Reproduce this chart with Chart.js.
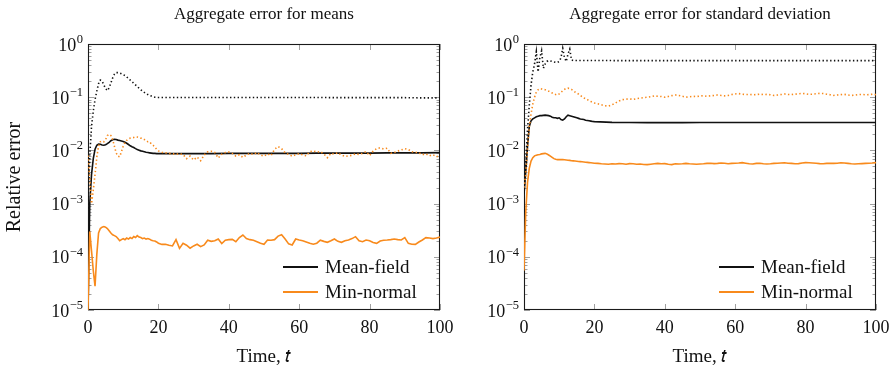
<!DOCTYPE html>
<html>
<head>
<meta charset="utf-8">
<script src="https://cdn.jsdelivr.net/npm/chart.js@4.4.0/dist/chart.umd.min.js"></script>
<style>
  body { margin: 0; background: #fff; width: 895px; height: 369px; position: relative; overflow: hidden; font-family: "Liberation Serif", serif; }
  .box { position: absolute; top: 0; height: 369px; }
  .legend { position: absolute; font-size: 19px; color: #111; line-height: 25px; }
  .legend div { display: flex; align-items: center; height: 25px; white-space: nowrap; }
  .legend .line { display: inline-block; width: 35px; height: 2px; margin-right: 7px; }
</style>
</head>
<body>
<div class="box" style="left:448px;width:447px"><canvas id="stdChart" width="447" height="369"></canvas></div>
<div class="box" style="left:0;width:470px"><canvas id="meansChart" width="470" height="369"></canvas></div>

<div class="legend" style="left:283px;top:254px">
  <div><span class="line" style="background:#111"></span>Mean-field</div>
  <div><span class="line" style="background:#f88a1c"></span>Min-normal</div>
</div>
<div class="legend" style="left:719px;top:254px">
  <div><span class="line" style="background:#111"></span>Mean-field</div>
  <div><span class="line" style="background:#f88a1c"></span>Min-normal</div>
</div>

<script>
// ================= DATA =================
const xTicks = [0, 20, 40, 60, 80, 100];
const yTicks = [1e-5, 1e-4, 1e-3, 1e-2, 1e-1, 1];

// time grid for the noisy curves
const timeFine = [
  0, 0.5, 1, 1.5, 2, 2.5, 3, 3.5, 4, 4.5, 5, 5.5, 6, 6.5, 7, 7.5, 8, 8.5, 9, 9.5,
  10, 10.5, 11, 11.5, 12, 12.5, 13, 13.5, 14, 14.5, 15, 15.5, 16, 16.5, 17, 17.5, 18, 18.5, 19, 19.5, 20,
  21, 22, 23, 24, 25, 26, 27, 28, 29, 30, 31, 32, 33, 34, 35, 36, 37, 38, 39, 40,
  41, 42, 43, 44, 45, 46, 47, 48, 49, 50, 51, 52, 53, 54, 55, 56, 57, 58, 59, 60,
  61, 62, 63, 64, 65, 66, 67, 68, 69, 70, 71, 72, 73, 74, 75, 76, 77, 78, 79, 80,
  81, 82, 83, 84, 85, 86, 87, 88, 89, 90, 91, 92, 93, 94, 95, 96, 97, 98, 99, 100
];
// time grid for the smooth curves
const timeCoarse = [
  0, 0.5, 1, 1.5, 2, 2.5, 3, 3.5, 4, 4.5, 5, 5.5, 6, 6.5, 7, 7.5, 8, 8.5, 9, 9.5,
  10, 10.5, 11, 11.5, 12, 12.5, 13, 13.5, 14, 14.5, 15, 15.5, 16, 16.5, 17, 17.5, 18, 18.5, 19, 19.5, 20,
  25, 30, 35, 40, 45, 50, 55, 60, 65, 70, 75, 80, 85, 90, 95, 100
];

// --- left panel: means ---
const meanFieldMeanSolid = [
  1e-5, 1e-3, 3.5e-3, 7e-3, 0.0105, 0.0125, 0.0132, 0.013, 0.0126, 0.0125, 0.0128, 0.0134, 0.0142, 0.0152, 0.0158, 0.0162, 0.016, 0.0156, 0.0153, 0.015,
  0.0147, 0.0142, 0.0136, 0.0129, 0.0122, 0.0117, 0.0113, 0.0108, 0.0104, 0.0101, 0.0098, 0.0096, 0.0094, 0.0092, 0.0091, 0.009, 0.0089, 0.0088, 0.0088, 0.0087, 0.0087,
  0.0087, 0.0087, 0.0087, 0.0088, 0.0088, 0.0088, 0.0088, 0.0088, 0.0089, 0.0089, 0.0089, 0.0089, 0.009, 0.009, 0.009, 0.0091
];
const meanFieldMeanDotted = [
  8e-4, 0.008, 0.028, 0.055, 0.09, 0.13, 0.18, 0.21, 0.2, 0.17, 0.145, 0.133, 0.15, 0.185, 0.23, 0.27, 0.29, 0.29, 0.285, 0.275,
  0.265, 0.255, 0.24, 0.225, 0.21, 0.196, 0.182, 0.17, 0.158, 0.148, 0.138, 0.13, 0.123, 0.117, 0.112, 0.108, 0.105, 0.102, 0.1, 0.099, 0.099,
  0.099, 0.099, 0.099, 0.099, 0.099, 0.099, 0.099, 0.099, 0.099, 0.098, 0.098, 0.098, 0.098, 0.098, 0.097, 0.097
];
const minNormalMeanSolid = [
  1e-5, 3.0e-4, 1.3e-4, 5.5e-5, 2.8e-5, 1.1e-4, 2.8e-4, 3.4e-4, 3.6e-4, 3.7e-4, 3.6e-4, 3.4e-4, 3.1e-4, 2.8e-4, 2.6e-4, 2.5e-4, 2.4e-4, 2.2e-4, 2.0e-4, 2.1e-4,
  2.2e-4, 2.1e-4, 2.25e-4, 2.15e-4, 2.3e-4, 2.2e-4, 2.4e-4, 2.3e-4, 2.5e-4, 2.35e-4, 2.3e-4, 2.2e-4, 2.25e-4, 2.15e-4, 2.2e-4, 2.15e-4, 2.05e-4, 2.0e-4, 1.98e-4, 1.9e-4, 1.8e-4,
  1.71e-4, 1.72e-4, 1.65e-4, 1.6e-4, 2.1e-4, 1.44e-4, 1.79e-4, 1.65e-4, 1.45e-4, 1.6e-4,
  1.72e-4, 1.55e-4, 1.67e-4, 2.05e-4, 1.95e-4, 2.0e-4, 2.16e-4, 1.78e-4, 2.05e-4, 2.1e-4,
  2.12e-4, 1.92e-4, 2.3e-4, 2.57e-4, 2.2e-4, 2.1e-4, 2.05e-4, 1.92e-4, 1.8e-4, 1.72e-4,
  2.07e-4, 2.05e-4, 2.1e-4, 2.45e-4, 2.6e-4, 2.16e-4, 1.75e-4, 1.67e-4, 2.16e-4, 2.07e-4,
  2.0e-4, 1.9e-4, 1.8e-4, 1.72e-4, 1.8e-4, 2.05e-4, 1.95e-4, 1.87e-4, 2.0e-4, 2.16e-4,
  1.95e-4, 1.87e-4, 2.0e-4, 2.07e-4, 2.2e-4, 2.39e-4, 2.0e-4, 1.92e-4, 2.07e-4, 2.0e-4,
  1.85e-4, 1.79e-4, 1.98e-4, 2.05e-4, 2.07e-4, 2.1e-4, 2.16e-4, 2.1e-4, 2.07e-4, 2.29e-4,
  1.79e-4, 1.72e-4, 1.71e-4, 1.9e-4, 2.07e-4, 2.29e-4, 2.25e-4, 2.2e-4, 2.25e-4, 2.35e-4
];
const minNormalMeanDotted = [
  0.008, 0.003, 0.001, 0.0018, 0.0035, 0.0075, 0.012, 0.0145, 0.015, 0.0145, 0.016, 0.019, 0.02, 0.019, 0.016, 0.012, 0.009, 0.0078, 0.0076, 0.0095,
  0.012, 0.014, 0.0155, 0.0165, 0.017, 0.0172, 0.0175, 0.018, 0.0178, 0.0175, 0.017, 0.0168, 0.016, 0.0155, 0.0145, 0.0145, 0.0132, 0.0125, 0.0115, 0.0105, 0.0098,
  0.0092, 0.009, 0.0088, 0.0086, 0.0085, 0.0086, 0.0084, 0.007, 0.0078, 0.0066,
  0.0075, 0.0064, 0.0082, 0.0094, 0.0096, 0.0092, 0.0072, 0.0085, 0.0091, 0.0093,
  0.0088, 0.0078, 0.0083, 0.0074, 0.0082, 0.0088, 0.0084, 0.0091, 0.0082, 0.0078,
  0.0086, 0.008, 0.0105, 0.0118, 0.0108, 0.009, 0.0084, 0.0078, 0.0083, 0.0087,
  0.0082, 0.0079, 0.0094, 0.0098, 0.0093, 0.0095, 0.0086, 0.0073, 0.0088, 0.0085,
  0.009, 0.0082, 0.0077, 0.0079, 0.0081, 0.0086, 0.0084, 0.0088, 0.0095, 0.008,
  0.0097, 0.0108, 0.0112, 0.0106, 0.011, 0.0088, 0.0091, 0.0097, 0.0102, 0.0108,
  0.0104, 0.0094, 0.0092, 0.009, 0.0083, 0.0086, 0.0079, 0.0083, 0.0076, 0.008
];

// --- right panel: standard deviation ---
const meanFieldStdSolid = [
  1.5e-3, 4e-3, 0.012, 0.028, 0.036, 0.039, 0.041, 0.043, 0.044, 0.045, 0.045, 0.0455, 0.046, 0.0455, 0.045, 0.044, 0.042, 0.041, 0.041, 0.04,
  0.041, 0.038, 0.037, 0.039, 0.043, 0.046, 0.045, 0.044, 0.043, 0.042, 0.041, 0.04, 0.039, 0.0385, 0.038, 0.037, 0.0365, 0.036, 0.0355, 0.035, 0.0348,
  0.0336, 0.0334, 0.0333, 0.0333, 0.0333, 0.0334, 0.0334, 0.0334, 0.0334, 0.0334, 0.0335, 0.0335, 0.0335, 0.0335, 0.0335, 0.0335
];
const meanFieldStdDotted = [
  1.6e-3, 0.006, 0.025, 0.07, 0.17, 0.3, 0.42, 0.72, 0.3, 0.55, 0.75, 0.35, 0.42, 0.47, 0.49, 0.48, 0.47, 0.46, 0.45, 0.45,
  0.47, 0.55, 0.83, 0.55, 0.47, 0.65, 0.8, 0.5, 0.49, 0.49, 0.49, 0.49, 0.49, 0.49, 0.49, 0.49, 0.49, 0.49, 0.49, 0.49, 0.49,
  0.488, 0.487, 0.487, 0.486, 0.486, 0.486, 0.486, 0.486, 0.486, 0.486, 0.486, 0.486, 0.486, 0.486, 0.486, 0.486
];
const minNormalStdSolid = [
  5.5e-5, 7e-4, 2.5e-3, 4.6e-3, 6.3e-3, 7.3e-3, 7.9e-3, 8.1e-3, 8.3e-3, 8.4e-3, 8.6e-3, 8.7e-3, 8.8e-3, 8.6e-3, 8.2e-3, 7.8e-3, 7.4e-3, 7.0e-3, 6.8e-3, 6.7e-3,
  6.75e-3, 6.7e-3, 6.7e-3, 6.65e-3, 6.6e-3, 6.55e-3, 6.5e-3, 6.4e-3, 6.35e-3, 6.3e-3, 6.25e-3, 6.2e-3, 6.15e-3, 6.1e-3, 6.05e-3, 6.0e-3, 5.95e-3, 5.9e-3, 5.85e-3, 5.8e-3, 5.75e-3,
  5.7e-3, 5.6e-3, 5.55e-3, 5.5e-3, 5.6e-3, 5.55e-3, 5.65e-3, 5.6e-3, 5.5e-3, 5.65e-3,
  5.6e-3, 5.5e-3, 5.55e-3, 5.45e-3, 5.4e-3, 5.5e-3, 5.6e-3, 5.7e-3, 5.6e-3, 5.65e-3,
  5.5e-3, 5.4e-3, 5.6e-3, 5.55e-3, 5.6e-3, 5.7e-3, 5.6e-3, 5.55e-3, 5.5e-3, 5.55e-3,
  5.6e-3, 5.7e-3, 5.75e-3, 5.65e-3, 5.7e-3, 5.8e-3, 5.75e-3, 5.6e-3, 5.7e-3, 5.75e-3,
  5.8e-3, 5.9e-3, 5.75e-3, 5.6e-3, 5.55e-3, 5.7e-3, 5.75e-3, 5.6e-3, 5.55e-3, 5.6e-3,
  5.7e-3, 5.75e-3, 5.8e-3, 5.85e-3, 5.75e-3, 5.7e-3, 5.6e-3, 5.65e-3, 5.8e-3, 5.9e-3,
  5.85e-3, 5.8e-3, 5.75e-3, 5.65e-3, 5.6e-3, 5.7e-3, 5.75e-3, 5.7e-3, 5.75e-3, 5.85e-3,
  5.8e-3, 5.7e-3, 5.6e-3, 5.55e-3, 5.6e-3, 5.65e-3, 5.7e-3, 5.75e-3, 5.8e-3, 5.9e-3
];
const minNormalStdDotted = [
  0.002, 0.0035, 0.011, 0.028, 0.048, 0.075, 0.1, 0.125, 0.138, 0.145, 0.143, 0.14, 0.138, 0.134, 0.13, 0.125, 0.12, 0.115, 0.112, 0.11,
  0.115, 0.123, 0.132, 0.14, 0.147, 0.148, 0.145, 0.14, 0.133, 0.125, 0.12, 0.114, 0.108, 0.102, 0.097, 0.094, 0.09, 0.086, 0.083, 0.08, 0.078,
  0.075, 0.072, 0.069, 0.068, 0.072, 0.078, 0.085, 0.09, 0.092, 0.093,
  0.091, 0.094, 0.096, 0.098, 0.1, 0.102, 0.106, 0.104, 0.103, 0.1,
  0.103, 0.107, 0.11, 0.108, 0.104, 0.1, 0.102, 0.104, 0.103, 0.105,
  0.107, 0.104, 0.106, 0.108, 0.11, 0.108, 0.106, 0.108, 0.112, 0.115,
  0.117, 0.114, 0.112, 0.113, 0.111, 0.112, 0.114, 0.112, 0.113, 0.111,
  0.108, 0.11, 0.112, 0.115, 0.113, 0.112, 0.114, 0.116, 0.118, 0.116,
  0.113, 0.114, 0.116, 0.118, 0.117, 0.114, 0.111, 0.108, 0.11, 0.112,
  0.113, 0.11, 0.108, 0.109, 0.112, 0.113, 0.111, 0.112, 0.114, 0.112
];

// ================= STYLE =================
const BLACK = "#111111";
const ORANGE = "#f88a1c";
const FONT = "'Liberation Serif', serif";

function pts(times, values) {
  return times.map((t, i) => ({ x: t, y: values[i] }));
}

function line(label, times, values, color, dotted) {
  return {
    label,
    data: pts(times, values),
    borderColor: color,
    borderWidth: 1.6,
    borderDash: dotted ? [1.4, 2.4] : [],
    pointRadius: 0,
    tension: 0,
    fill: false
  };
}

// frame with inward major/minor ticks (pgfplots look)
const frameTicks = {
  id: "frameTicks",
  beforeDatasetsDraw(chart) {
    const { ctx, chartArea: a, scales: { x, y } } = chart;
    ctx.save();
    ctx.strokeStyle = "#a0a0a0";
    ctx.lineWidth = 1;
    ctx.beginPath();
    xTicks.forEach(v => {
      const px = Math.round(x.getPixelForValue(v)) + 0.5;
      ctx.moveTo(px, a.bottom); ctx.lineTo(px, a.bottom - 6);
      ctx.moveTo(px, a.top); ctx.lineTo(px, a.top + 6);
    });
    yTicks.forEach(d => {
      for (let m = 1; m < 10; m++) {
        const v = d * m;
        if (v > 1) break;
        const len = m === 1 ? 6 : 3.5;
        const py = Math.round(y.getPixelForValue(v)) + 0.5;
        ctx.moveTo(a.left, py); ctx.lineTo(a.left + len, py);
        ctx.moveTo(a.right, py); ctx.lineTo(a.right - len, py);
      }
    });
    ctx.stroke();
    ctx.strokeStyle = "#1a1a1a";
    ctx.lineWidth = 1.1;
    ctx.strokeRect(Math.round(a.left) + 0.5, Math.round(a.top) + 0.5, Math.round(a.width) - 1, Math.round(a.height) - 1);
    ctx.restore();
  },
  // y tick labels as 10 with a raised exponent
  afterDraw(chart) {
    const { ctx, chartArea: a, scales: { y } } = chart;
    ctx.save();
    ctx.fillStyle = BLACK;
    ctx.textBaseline = "alphabetic";
    ctx.textAlign = "right";
    yTicks.forEach(d => {
      const py = y.getPixelForValue(d);
      const e = Math.round(Math.log10(d));
      const exp = e < 0 ? "\u2212" + (-e) : String(e);
      const right = a.left - 5;
      ctx.font = "12.5px " + FONT;
      const ew = ctx.measureText(exp).width;
      ctx.fillText(exp, right, py - 1);
      ctx.font = "18px " + FONT;
      ctx.fillText("10", right - ew - 0.5, py + 6.5);
    });
    ctx.restore();
  }
};

function makeChart(id, title, datasets, yWidth, padRight, yTitle) {
  return new Chart(document.getElementById(id).getContext("2d"), {
    type: "line",
    data: { datasets },
    plugins: [frameTicks],
    options: {
      responsive: false,
      animation: false,
      layout: { padding: { left: 0, right: padRight, top: 0, bottom: 0 } },
      plugins: {
        legend: { display: false },
        tooltip: { enabled: false },
        title: {
          display: true,
          text: title,
          fullSize: false,
          color: BLACK,
          font: { family: FONT, size: 17, weight: "normal" },
          padding: { top: 4, bottom: 19.6 }
        }
      },
      scales: {
        x: {
          type: "linear",
          min: 0,
          max: 100,
          afterBuildTicks: s => { s.ticks = xTicks.map(v => ({ value: v })); },
          afterFit: s => { s.height = 59; s.paddingLeft = 0; s.paddingRight = 0; },
          grid: { display: false, drawTicks: false },
          border: { display: false },
          ticks: { color: BLACK, padding: 7, maxRotation: 0, font: { family: FONT, size: 18 } },
          title: {
            display: true,
            text: "Time, 𝑡",
            color: BLACK,
            font: { family: FONT, size: 19 },
            padding: { top: 0, bottom: 1 }
          }
        },
        y: {
          type: "logarithmic",
          min: 1e-5,
          max: 1,
          afterBuildTicks: s => { s.ticks = yTicks.map(v => ({ value: v })); },
          afterFit: s => { s.width = yWidth; s.paddingTop = 0; s.paddingBottom = 0; },
          grid: { display: false, drawTicks: false },
          border: { display: false },
          ticks: { display: false },
          title: {
            display: yTitle,
            text: "Relative error",
            color: BLACK,
            font: { family: FONT, size: 20 },
            padding: { top: 3, bottom: 0 }
          }
        }
      }
    }
  });
}

// dataset 0 is drawn on top
makeChart("meansChart", "Aggregate error for means", [
  line("Min-normal", timeFine, minNormalMeanSolid, ORANGE, false),
  line("", timeFine, minNormalMeanDotted, ORANGE, true),
  line("Mean-field", timeCoarse, meanFieldMeanSolid, BLACK, false),
  line("", timeCoarse, meanFieldMeanDotted, BLACK, true)
], 88, 30, true);

makeChart("stdChart", "Aggregate error for standard deviation", [
  line("Min-normal", timeFine, minNormalStdSolid, ORANGE, false),
  line("", timeFine, minNormalStdDotted, ORANGE, true),
  line("Mean-field", timeCoarse, meanFieldStdSolid, BLACK, false),
  line("", timeCoarse, meanFieldStdDotted, BLACK, true)
], 76, 19, false);
</script>
</body>
</html>
